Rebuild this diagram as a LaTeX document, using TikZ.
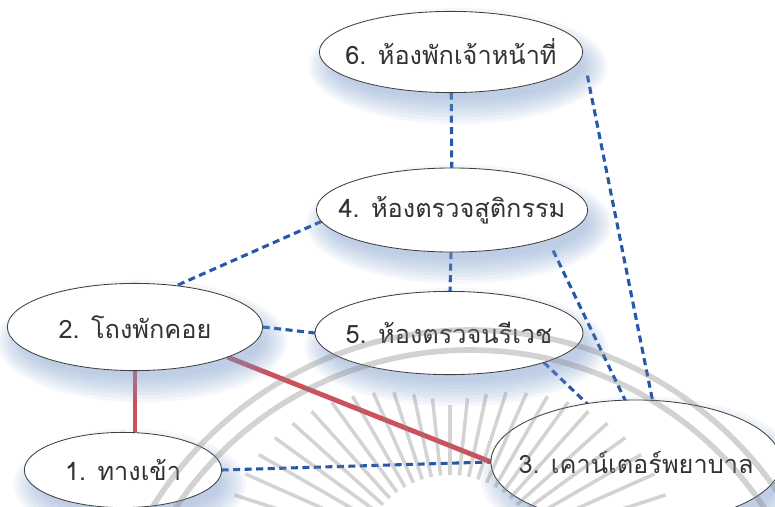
\documentclass[tikz,border=0pt]{standalone}
\usepackage{fontspec}
\newfontfamily\thaifont[Script=Thai]{Loma}
\usetikzlibrary{shapes.geometric,calc}

\definecolor{linkblue}{RGB}{38,88,170}
\definecolor{walkred}{RGB}{200,62,72}
\definecolor{shadeblue}{RGB}{120,152,200}

\pgfdeclarelayer{back}
\pgfsetlayers{back,main}

\begin{document}
\begin{tikzpicture}[x=0.025cm, y=-0.025cm,
    room/.style={ellipse, draw=black!75, line width=0.6pt, fill=white,
      inner sep=0pt, outer sep=0pt, text=black!80,
      font=\thaifont\fontsize{18}{20}\selectfont},
    link/.style={linkblue, line width=2.2pt, dash pattern=on 5pt off 3.2pt},
    walk/.style={walkred, line width=3.5pt, opacity=0.9},
    seal/.style={gray, line width=4pt, opacity=0.35}]
  \useasboundingbox (0,0) rectangle (775,506);

  % rooms
  \node[room, minimum width=6.58cm, minimum height=2.03cm] (staff) at (451,52) {\makebox[0pt]{6. ห้องพักเจ้าหน้าที่}};
  \node[room, minimum width=6.78cm, minimum height=2.1cm] (obstet) at (452,210) {\makebox[0pt]{4. ห้องตรวจสูติกรรม}};
  \node[room, minimum width=6.7cm, minimum height=2.08cm] (gyn) at (449,333) {\makebox[0pt]{5. ห้องตรวจนรีเวช}};
  \node[room, minimum width=6.38cm, minimum height=2.18cm] (lounge) at (135,327) {\makebox[0pt]{2. โถงพักคอย}};
  \node[room, minimum width=4.93cm, minimum height=1.88cm] (entry) at (123,470) {\makebox[0pt]{1. ทางเข้า}};
  \node[room, minimum width=7.25cm, minimum height=3.1cm] (counter) at (636,462) {\makebox[0pt]{3. เคาน์เตอร์พยาบาล}};

  % connections and soft shadows, kept under the rooms
  \begin{pgfonlayer}{back}
    \draw[link] (staff) -- (obstet);
    \draw[link, shorten <=0.6cm] (staff.east) -- (counter.75);
    \draw[link, shorten <=0.3cm] (obstet.south east) -- (counter.100);
    \draw[link] (obstet.185) -- (lounge.45);
    \draw[link] (obstet) -- (gyn);
    \draw[link] (lounge.east) -- (gyn.west);
    \draw[link] (gyn.south east) -- (counter.130);
    \draw[link] (entry.east) -- (counter.west);
    \draw[walk] (lounge.south) -- (lounge.south |- entry.north);
    \draw[walk] (lounge.-18) -- (counter.west);

    \foreach \r in {staff,obstet,gyn,lounge,entry,counter}
      \foreach \k in {0,...,7}
        \fill[shadeblue, opacity=0.08]
          let \p1=($(\r.east)-(\r.center)$), \p2=($(\r.north)-(\r.center)$) in
          ([shift={(5pt,-10pt)}]\r.center)
          ellipse [x radius={\x1-5pt+\k*2.5pt}, y radius={\y2-5pt+\k*2.5pt}];
  \end{pgfonlayer}

  % seal in the background paper
  \begin{scope}
    \clip (0,0) rectangle (775,506);
    \draw[seal] (470,703) circle [radius=373];
    \draw[seal] (470,703) circle [radius=353];
    \foreach \a in {-18,-24,...,-162} {
      \pgfmathsetmacro\len{70+70*abs(cos(\a))}
      \draw[seal, line width=2.5pt] (450,565) ++(\a:90) -- ++(\a:\len);
    }
  \end{scope}
\end{tikzpicture}
\end{document}
